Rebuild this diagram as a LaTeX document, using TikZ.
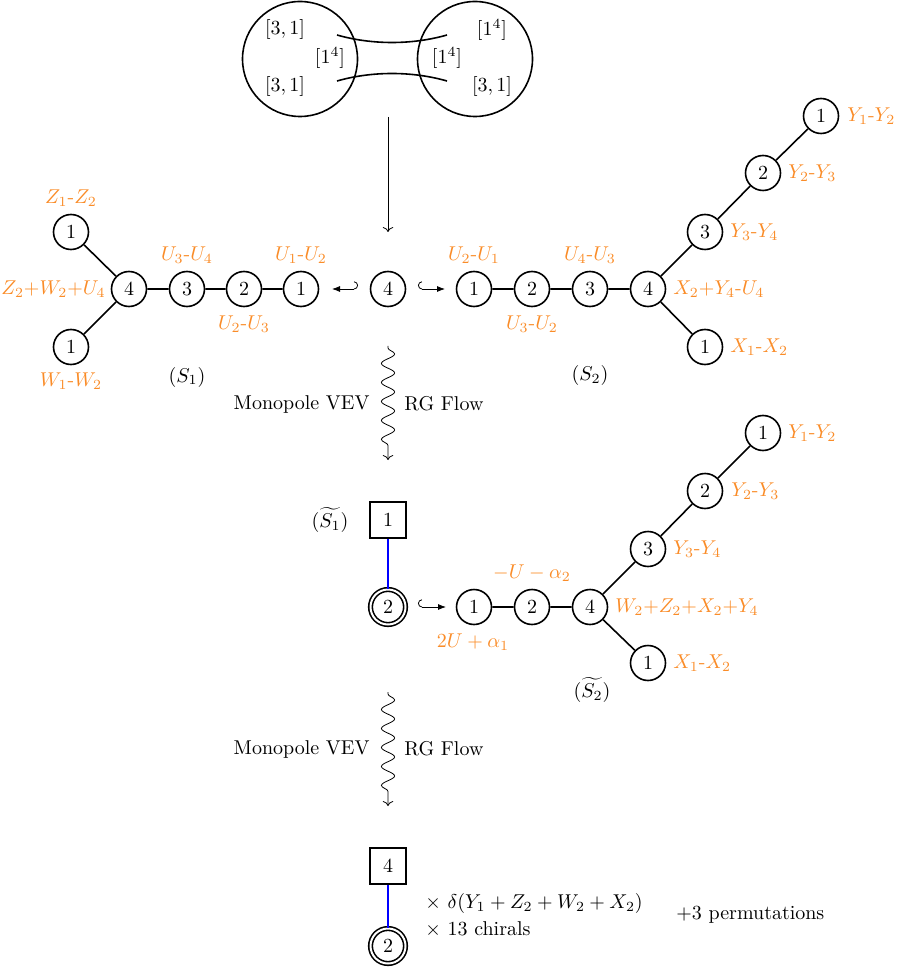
\documentclass[tikz,border=0pt]{standalone}
\usetikzlibrary{arrows.meta,decorations.pathmorphing}
\definecolor{lblorange}{RGB}{250,140,40}
\begin{document}
\begin{tikzpicture}[x=0.5pt,y=-0.5pt,
 gn/.style={circle,draw,thick,minimum size=17.5pt,inner sep=0pt},
 sq/.style={rectangle,draw,thick,minimum size=18pt,inner sep=0pt},
 dn/.style={circle,draw,thick,double,double distance=1pt,minimum size=17.5pt,inner sep=0pt},
 big/.style={circle,draw,thick,minimum size=57.5pt,inner sep=0pt},
 lb/.style={text=lblorange,inner sep=0pt},
 tx/.style={inner sep=0pt},
 edge/.style={thick},
 wavy/.style={-{To},decorate,decoration={snake,amplitude=3.3pt,segment length=9.5pt,pre length=1pt,post length=3pt}},
 hk/.style={{Hooks[right,length=2pt]}-{Latex[length=4pt]}},
 hkl/.style={{Hooks[left,length=2pt]}-{Latex[length=4pt]}},
]
\useasboundingbox (0,0) rectangle (897,972);
% ---------- top ----------
\node[big] (L) at (300,59) {};
\node[big] (R) at (475,59) {};
\node[tx] (la) at (285,30) {$[3,1]$};
\node[tx] (lb2) at (330,58) {$[1^4]$};
\node[tx] (lc) at (285,87) {$[3,1]$};
\node[tx] (ra) at (492,30) {$[1^4]$};
\node[tx] (rb) at (447,58) {$[1^4]$};
\node[tx] (rc) at (492,87) {$[3,1]$};
\draw[thick] (337,35) .. controls (372,45) and (412,45) .. (447,35);
\draw[thick] (337,81) .. controls (372,71) and (412,71) .. (447,81);
\coordinate (t1) at (388,117);
\coordinate (t2) at (388,232);
\draw[-{To}] (t1) -- (t2);
% ---------- S1 ----------
\node[gn] (a1) at (71,232) {1};
\node[gn] (a5) at (71,347) {1};
\node[gn] (a4) at (129,289) {4};
\node[gn] (a3) at (187,289) {3};
\node[gn] (a2) at (244,289) {2};
\node[gn] (a0) at (301,289) {1};
\draw[edge] (a1)--(a4) (a5)--(a4) (a4)--(a3)--(a2)--(a0);
\node[lb] at (71,198) {$Z_1$-$Z_2$};
\node[lb,anchor=east] at (106,289) {$Z_2{+}W_2{+}U_4$};
\node[lb] at (71,381) {$W_1$-$W_2$};
\node[lb] at (187,255) {$U_3$-$U_4$};
\node[lb] at (301,255) {$U_1$-$U_2$};
\node[lb] at (244,324) {$U_2$-$U_3$};
\node[tx] (s1) at (187,377) {$(S_1)$};
% ---------- centre ----------
\node[gn] (m) at (388,289) {4};
\coordinate (h1) at (358,289);
\coordinate (h2) at (332,289);
\draw[hkl] (h1) -- (h2);
\coordinate (h3) at (418,289);
\coordinate (h4) at (445,289);
\draw[hk] (h3) -- (h4);
% ---------- S2 ----------
\node[gn] (b1) at (474,289) {1};
\node[gn] (b2) at (532,289) {2};
\node[gn] (b3) at (590,289) {3};
\node[gn] (b4) at (648,289) {4};
\node[gn] (c3) at (705,232) {3};
\node[gn] (c2) at (763,173) {2};
\node[gn] (c1) at (821,116) {1};
\node[gn] (d1) at (705,347) {1};
\draw[edge] (b1)--(b2)--(b3)--(b4)--(c3)--(c2)--(c1) (b4)--(d1);
\node[lb] at (474,255) {$U_2$-$U_1$};
\node[lb] at (532,324) {$U_3$-$U_2$};
\node[lb] at (590,255) {$U_4$-$U_3$};
\node[lb,anchor=west] at (673,289) {$X_2{+}Y_4$-$U_4$};
\node[lb,anchor=west] at (730,232) {$Y_3$-$Y_4$};
\node[lb,anchor=west] at (788,173) {$Y_2$-$Y_3$};
\node[lb,anchor=west] at (847,116) {$Y_1$-$Y_2$};
\node[lb,anchor=west] at (730,347) {$X_1$-$X_2$};
\node[tx] (s2) at (590,375) {$(S_2)$};
% ---------- first flow ----------
\coordinate (w1) at (388,346);
\coordinate (w2) at (388,460);
\draw[wavy] (w1) -- (w2);
\node[tx,anchor=east] at (370,404) {Monopole VEV};
\node[tx,anchor=west] at (404,404) {RG Flow};
% ---------- tilde S1 / S2 ----------
\node[sq] (q1) at (388,520) {1};
\node[dn] (e2) at (388,607) {2};
\draw[thick,blue] (q1) -- (e2);
\node[tx] (ts1) at (330,520) {$(\widetilde{S_1})$};
\coordinate (h5) at (418,607);
\coordinate (h6) at (446,607);
\draw[hk] (h5) -- (h6);
\node[gn] (f1) at (474,607) {1};
\node[gn] (f2) at (532,607) {2};
\node[gn] (f4) at (590,607) {4};
\node[gn] (g3) at (648,549) {3};
\node[gn] (g2) at (705,491) {2};
\node[gn] (g1) at (763,433) {1};
\node[gn] (k1) at (648,663) {1};
\draw[edge] (f1)--(f2)--(f4)--(g3)--(g2)--(g1) (f4)--(k1);
\node[lb] at (532,573) {$-U-\alpha_2$};
\node[lb] at (473,642) {$2U+\alpha_1$};
\node[lb,anchor=west] at (788,433) {$Y_1$-$Y_2$};
\node[lb,anchor=west] at (731,491) {$Y_2$-$Y_3$};
\node[lb,anchor=west] at (673,549) {$Y_3$-$Y_4$};
\node[lb,anchor=west] at (615,607) {$W_2{+}Z_2{+}X_2{+}Y_4$};
\node[lb,anchor=west] at (673,663) {$X_1$-$X_2$};
\node[tx] (ts2) at (592,690) {$(\widetilde{S_2})$};
% ---------- second flow ----------
\coordinate (w3) at (388,692);
\coordinate (w4) at (388,806);
\draw[wavy] (w3) -- (w4);
\node[tx,anchor=east] at (370,749) {Monopole VEV};
\node[tx,anchor=west] at (404,749) {RG Flow};
% ---------- bottom ----------
\node[sq] (q4) at (388,866) {4};
\node[dn] (e4) at (388,946) {2};
\draw[thick,blue] (q4) -- (e4);
\node[tx,anchor=west] at (425,903) {$\times\ \delta(Y_1+Z_2+W_2+X_2)$};
\node[tx,anchor=west] at (425,929) {$\times$ 13 chirals};
\node[tx,anchor=west] at (676,915) {$+3$ permutations};
\end{tikzpicture}
\end{document}
